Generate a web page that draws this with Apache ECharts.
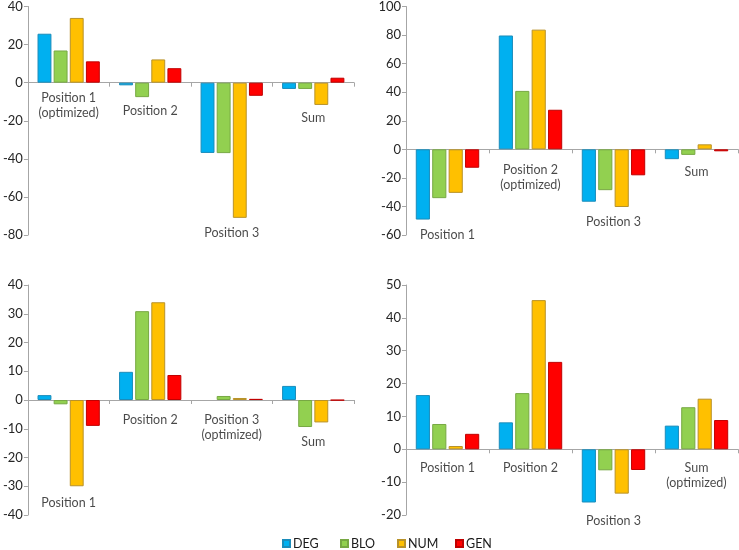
<!DOCTYPE html>
<html>
<head>
<meta charset="utf-8">
<script src="https://cdn.jsdelivr.net/npm/echarts@6/dist/echarts.min.js"></script>
<style>html,body{margin:0;padding:0;background:#fff}#c{width:739px;height:550px}</style>
</head>
<body>
<div id="c"></div>
<script>
var categories = ['Position 1', 'Position 2', 'Position 3', 'Sum'];
var seriesNames = ['DEG', 'BLO', 'NUM', 'GEN'];

// Panel 1 (Position 1 optimized)
var p1DEG = [25.7, -1.4, -36.9, -3.3];
var p1BLO = [16.9, -7.6, -37.0, -3.3];
var p1NUM = [34.0, 12.2, -71.0, -11.7];
var p1GEN = [11.2, 7.6, -6.9, 2.6];
// Panel 2 (Position 2 optimized)
var p2DEG = [-49.2, 79.7, -36.7, -6.9];
var p2BLO = [-34.2, 40.9, -28.6, -3.9];
var p2NUM = [-30.5, 83.8, -40.4, 3.5];
var p2GEN = [-12.9, 27.7, -18.2, -1.4];
// Panel 3 (Position 3 optimized)
var p3DEG = [1.7, 9.8, null, 4.9];
var p3BLO = [-1.5, 30.9, 1.4, -9.4];
var p3NUM = [-30.0, 34.0, 0.7, -7.8];
var p3GEN = [-9.0, 8.7, 0.4, -0.1];
// Panel 4 (Sum optimized)
var p4DEG = [16.5, 8.2, -16.2, 7.2];
var p4BLO = [7.7, 17.1, -6.4, 12.8];
var p4NUM = [1.0, 45.4, -13.5, 15.4];
var p4GEN = [4.7, 26.6, -6.3, 8.9];

// Category label texts and their vertical placement (data units)
var p1Labels = ['Position 1\n(optimized)', 'Position 2', 'Position 3', 'Sum'];
var p1LabelY = [-12, -15, -78.8, -18.8];
var p2Labels = ['Position 1', 'Position 2\n(optimized)', 'Position 3', 'Sum'];
var p2LabelY = [-60, -19.6, -50.8, -16.2];
var p3Labels = ['Position 1', 'Position 2', 'Position 3\n(optimized)', 'Sum'];
var p3LabelY = [-35.9, -6.8, -9.5, -14.5];
var p4Labels = ['Position 1', 'Position 2', 'Position 3', 'Sum\n(optimized)'];
var p4LabelY = [-5.7, -5.7, -21.7, -8.0];

// Y axis ranges
var yMin = [-80, -60, -40, -20];
var yMax = [40, 100, 40, 50];
var yStep = [20, 20, 10, 10];

var panels = [
  [p1DEG, p1BLO, p1NUM, p1GEN],
  [p2DEG, p2BLO, p2NUM, p2GEN],
  [p3DEG, p3BLO, p3NUM, p3GEN],
  [p4DEG, p4BLO, p4NUM, p4GEN]
];
var panelLabels = [p1Labels, p2Labels, p3Labels, p4Labels];
var panelLabelY = [p1LabelY, p2LabelY, p3LabelY, p4LabelY];

var fills = ['#00B0F0', '#92D050', '#FFC000', '#FF0000'];
var borders = ['#1B8CBA', '#77A843', '#B8922A', '#C00000'];
var FONT = 'Lato';
var axisColor = '#A6A6A6';
var textColor = '#262626';

var grids = [
  {left: 22, top: 5, width: 332, height: 230},
  {left: 406, top: 5, width: 332, height: 230},
  {left: 22, top: 285, width: 332, height: 230},
  {left: 406, top: 285, width: 332, height: 230}
];

var xAxes = [], yAxes = [], series = [];
for (var g = 0; g < 4; g++) {
  xAxes.push({
    type: 'category', gridIndex: g, data: categories,
    axisLine: {show: true, onZero: true, lineStyle: {color: axisColor, width: 1}},
    axisTick: {show: true, length: 4, lineStyle: {color: axisColor}},
    axisLabel: {show: false},
    splitLine: {show: false}
  });
  yAxes.push({
    type: 'value', gridIndex: g, min: yMin[g], max: yMax[g], interval: yStep[g],
    axisLine: {show: true, lineStyle: {color: axisColor, width: 1}},
    axisTick: {show: true, length: 4, lineStyle: {color: axisColor}},
    axisLabel: {color: textColor, fontFamily: FONT, fontSize: 13, margin: 5},
    splitLine: {show: false}
  });
  for (var s = 0; s < 4; s++) {
    series.push({
      type: 'bar', name: seriesNames[s], xAxisIndex: g, yAxisIndex: g,
      data: panels[g][s],
      barCategoryGap: '23.6%', barGap: '16%',
      itemStyle: {color: fills[s], borderColor: borders[s], borderWidth: 1},
      silent: true, animation: false
    });
  }
  var ld = [];
  for (var i = 0; i < 4; i++) {
    ld.push([i, panelLabelY[g][i], panelLabels[g][i]]);
  }
  series.push({
    type: 'scatter', xAxisIndex: g, yAxisIndex: g, symbolSize: 0, clip: false,
    data: ld, silent: true, animation: false,
    label: {
      show: true, position: 'inside', color: '#1a1a1a', fontFamily: FONT, fontSize: 12.5, lineHeight: 15,
      formatter: function (p) { return p.data[2]; }
    }
  });
}

var legendLeft = [282, 340, 397, 455];
var legends = seriesNames.map(function (n, i) {
  return {
    data: [n], left: legendLeft[i], top: 537, icon: 'rect', itemWidth: 7, itemHeight: 7,
    padding: [0, 0, 0, 0],
    textStyle: {color: '#1a1a1a', fontFamily: FONT, fontSize: 12.5, padding: [0, 0, 0, -2]},
    selectedMode: false
  };
});

var chart = echarts.init(document.getElementById('c'), null, {renderer: 'canvas'});
chart.setOption({
  animation: false,
  backgroundColor: '#fff',
  grid: grids,
  xAxis: xAxes,
  yAxis: yAxes,
  legend: legends,
  series: series
});
</script>
</body>
</html>
